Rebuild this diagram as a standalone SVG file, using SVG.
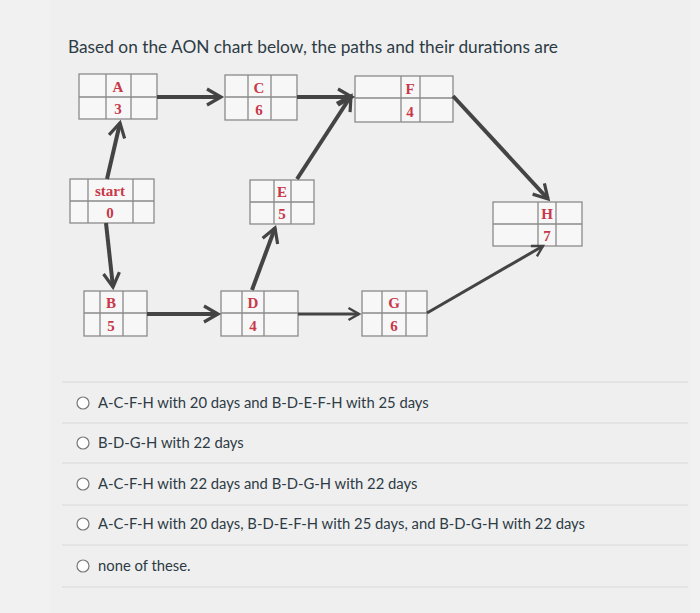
<svg xmlns="http://www.w3.org/2000/svg" width="700" height="613" viewBox="0 0 700 613">
<style>
.cell{fill:#f7f7f7;stroke:#8a8a8a;stroke-width:1.3}
.ln{stroke:#8a8a8a;stroke-width:1.3}
.lb{font-family:"Liberation Serif",serif;font-weight:bold;font-size:15px;fill:#c8374a;text-anchor:middle}
.c{stroke:#444;stroke-width:4;fill:none;marker-end:url(#ah)}
.opt{font-family:"Lato","Liberation Sans",sans-serif;font-size:14.8px;fill:#2d3b45}
.sep{stroke:#d8d8d8;stroke-width:1}
.rad{fill:#fff;stroke:#777;stroke-width:1.2}
</style>
<defs><marker id="ah" viewBox="0 0 10 10" refX="8" refY="5" markerWidth="5" markerHeight="5" orient="auto" markerUnits="strokeWidth"><path d="M1,1 L8,5 L1,9" fill="none" stroke="#444" stroke-width="1.6"/></marker></defs>
<rect width="700" height="613" fill="#f1f1f1"/>
<rect x="50" y="0" width="640" height="613" fill="#efefef"/>
<text x="68" y="53" font-family="Lato,'Liberation Sans',sans-serif" font-size="17.3" fill="#2d3b45">Based on the AON chart below, the paths and their durations are</text>
<g id="nA"><rect class="cell" x="79" y="74" width="78" height="45"/><path class="ln" d="M79,97H157M106,74V119M131,74V119"/><text class="lb" x="118" y="92">A</text><text class="lb" x="118" y="114">3</text></g>
<g id="nC"><rect class="cell" x="225" y="75" width="72" height="45"/><path class="ln" d="M225,97H297M248,75V120M271,75V120"/><text class="lb" x="259" y="93">C</text><text class="lb" x="259" y="115">6</text></g>
<g id="nF"><rect class="cell" x="355" y="76" width="98" height="46"/><path class="ln" d="M355,98H453M401,76V122M420,76V122"/><text class="lb" x="410" y="94">F</text><text class="lb" x="410" y="117">4</text></g>
<g id="nstart"><rect class="cell" x="70" y="179" width="84" height="44"/><path class="ln" d="M70,201H154M88,179V223M133,179V223"/><text class="lb" x="110" y="196">start</text><text class="lb" x="110" y="218">0</text></g>
<g id="nE"><rect class="cell" x="250" y="180" width="64" height="44"/><path class="ln" d="M250,202H314M274,180V224M291,180V224"/><text class="lb" x="282" y="197">E</text><text class="lb" x="282" y="219">5</text></g>
<g id="nH"><rect class="cell" x="493" y="202" width="89" height="44"/><path class="ln" d="M493,224H582M538,202V246M556,202V246"/><text class="lb" x="547" y="219">H</text><text class="lb" x="547" y="241">7</text></g>
<g id="nB"><rect class="cell" x="84" y="291" width="63" height="45"/><path class="ln" d="M84,313H147M100,291V336M123,291V336"/><text class="lb" x="111" y="308">B</text><text class="lb" x="111" y="331">5</text></g>
<g id="nD"><rect class="cell" x="221" y="291" width="77" height="45"/><path class="ln" d="M221,313H298M242,291V336M264,291V336"/><text class="lb" x="253" y="308">D</text><text class="lb" x="253" y="331">4</text></g>
<g id="nG"><rect class="cell" x="362" y="291" width="65" height="45"/><path class="ln" d="M362,313H427M382,291V336M406,291V336"/><text class="lb" x="394" y="308">G</text><text class="lb" x="394" y="331">6</text></g>
<g id="connectors">
<path class="c" d="M157,97H221"/>
<path class="c" d="M297,97H352"/>
<path class="c" d="M107,179L120,123"/>
<path class="c" d="M106,223L113,287"/>
<path class="c" d="M147,314H218"/>
<path class="c" d="M298,314H359" style="stroke-width:3"/>
<path class="c" d="M252,290L275,228"/>
<path class="c" d="M297,179L351,96"/>
<path class="c" d="M453,96L548,199"/>
<path class="c" d="M427,313L543,246" style="stroke-width:3"/>
</g>
<g id="options">
<line class="sep" x1="62" y1="382" x2="688" y2="382"/>
<line class="sep" x1="62" y1="423" x2="688" y2="423"/>
<line class="sep" x1="62" y1="463" x2="688" y2="463"/>
<line class="sep" x1="62" y1="505" x2="688" y2="505"/>
<line class="sep" x1="62" y1="545" x2="688" y2="545"/>
<line class="sep" x1="62" y1="587" x2="688" y2="587"/>
<circle class="rad" cx="83" cy="403" r="6"/><text class="opt" x="98" y="408">A-C-F-H with 20 days and B-D-E-F-H with 25 days</text>
<circle class="rad" cx="83" cy="443" r="6"/><text class="opt" x="98" y="448">B-D-G-H with 22 days</text>
<circle class="rad" cx="83" cy="484" r="6"/><text class="opt" x="98" y="489">A-C-F-H with 22 days and B-D-G-H with 22 days</text>
<circle class="rad" cx="83" cy="524" r="6"/><text class="opt" x="98" y="529">A-C-F-H with 20 days, B-D-E-F-H with 25 days, and B-D-G-H with 22 days</text>
<circle class="rad" cx="83" cy="566" r="6"/><text class="opt" x="98" y="571">none of these.</text>
</g>
</svg>
